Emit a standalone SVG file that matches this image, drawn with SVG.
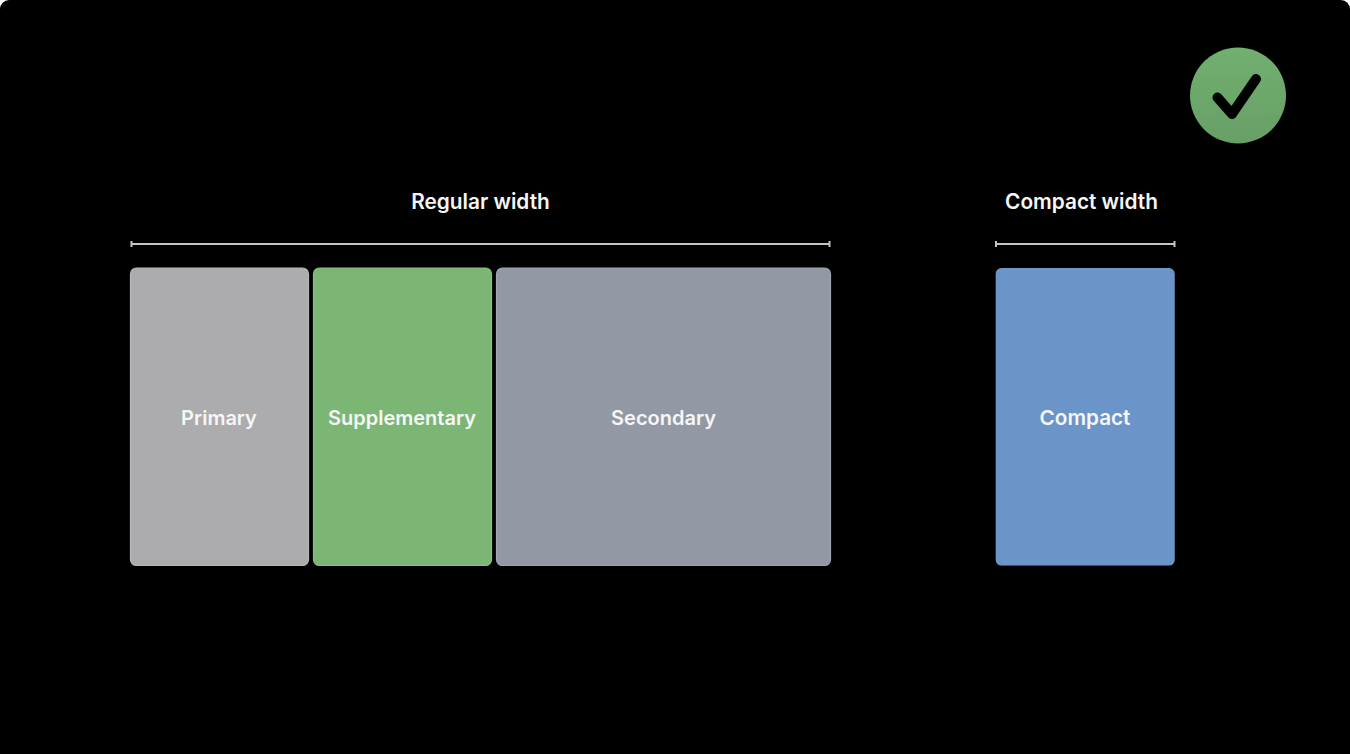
<svg xmlns="http://www.w3.org/2000/svg" width="1350" height="754" viewBox="0 0 1350 754">
<style>
.panel{stroke-width:1.2}
.lbl{font-family:Inter,"Liberation Sans",sans-serif;font-weight:600;font-size:20px;fill:#f6f6f6;text-anchor:middle}
.head{font-size:20.800px}
.wide{font-size:20.700px}
.rule{stroke:#c4c4c4;stroke-width:2;fill:none}
</style>
<defs>
<linearGradient id="g" x1="0" y1="0" x2="0" y2="1"><stop offset="0" stop-color="#71b070"/><stop offset="1" stop-color="#689f66"/></linearGradient>
</defs>
<rect width="1350" height="754" fill="#fff"/>
<rect width="1350" height="754" rx="9" fill="#000"/>
<rect y="740" width="1350" height="14" fill="#000"/>
<g id="connectors">
<path class="rule" d="M131.500 244H829.500M131.500 241V247M829.500 241V247"/>
<path class="rule" d="M996 244H1174.500M996 241V247M1174.500 241V247"/>
</g>
<g id="badge">
<circle cx="1238" cy="95.500" r="48" fill="url(#g)"/>
<path d="M1217.500 97.500L1232 114L1256 79" fill="none" stroke="#000" stroke-width="10" stroke-linecap="round" stroke-linejoin="round"/>
</g>
<g id="regular-label"><text class="lbl head" x="480.500" y="208.500">Regular width</text></g>
<g id="compact-label"><text class="lbl head" x="1081.500" y="208.500">Compact width</text></g>
<g id="primary"><rect class="panel" x="130.500" y="268" width="178" height="297.500" rx="6" fill="#acabad" stroke="#b8b7b9"/><text class="lbl" x="219" y="424.500">Primary</text></g>
<g id="supplementary"><rect class="panel" x="313.500" y="268" width="178" height="297.500" rx="6" fill="#7cb674" stroke="#8cc083"/><text class="lbl" x="402" y="424.500">Supplementary</text></g>
<g id="secondary"><rect class="panel" x="496.500" y="268" width="334" height="297.500" rx="6" fill="#9299a5" stroke="#a0a6b0"/><text class="lbl" x="663.500" y="424.500">Secondary</text></g>
<g id="compact"><rect class="panel" x="996.300" y="268.700" width="177.800" height="296.300" rx="5" fill="#6b94c9" stroke="#709acd"/><text class="lbl wide" x="1085" y="424.500">Compact</text></g>
</svg>
